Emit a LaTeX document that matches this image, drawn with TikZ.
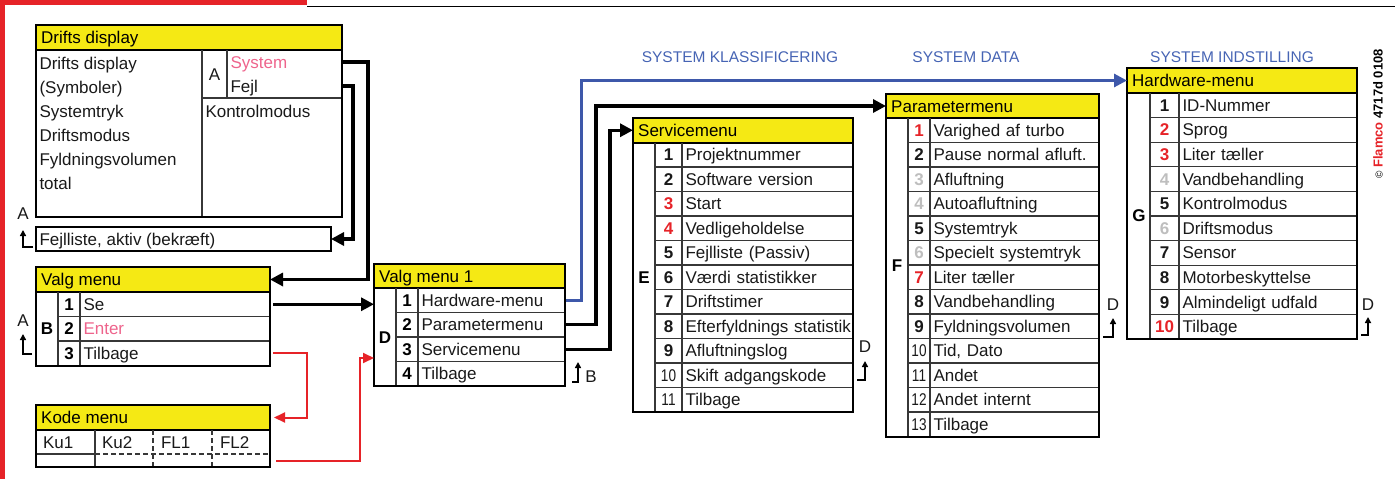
\documentclass[tikz,border=0pt]{standalone}
\usepackage{fontspec}
\setmainfont{Liberation Sans}
\usepackage{graphicx}
\usetikzlibrary{arrows.meta,calc}
\definecolor{hdryellow}{RGB}{245,233,20}
\definecolor{mred}{RGB}{230,35,40}
\definecolor{mpink}{RGB}{238,100,140}
\definecolor{mgray}{RGB}{190,190,190}
\definecolor{mblue}{RGB}{62,88,170}
\definecolor{tblue}{RGB}{70,100,180}
\definecolor{ink}{RGB}{25,25,25}
\definecolor{gridc}{RGB}{55,55,55}
\newcommand\mybody{\fontsize{17}{20}\selectfont}
\newcommand\numbold[1]{{\bfseries #1}}
\newcommand\numthin[1]{\scalebox{0.8}[1]{#1}}
\tikzset{
  hdr/.style={draw=black, fill=hdryellow, line width=2pt, anchor=north west, inner sep=0pt, outer sep=0pt},
  menuframe/.style={draw=black, line width=2pt, anchor=north west, inner sep=0pt, outer sep=0pt},
  gridline/.style={draw=gridc, line width=1.1pt},
  hdrtxt/.style={anchor=west, inner sep=0pt, font=\mybody, text=black, text height=12pt, text depth=0pt},
  rowtxt/.style={anchor=west, inner xsep=3.5pt, inner ysep=0pt, outer sep=0pt, font=\mybody, text=ink, align=left, text height=12pt, text depth=0pt},
  numtxt/.style={inner sep=0pt, font=\mybody, text height=12pt, text depth=0pt},
  sideletter/.style={inner sep=0pt, font=\mybody\bfseries, text height=12pt, text depth=0pt},
  conn/.style={draw=black, line width=3.2pt, -{Triangle[length=13pt,width=13pt]}},
  redconn/.style={draw=mred, line width=2pt, -{Triangle[length=11pt,width=10pt]}},
  blueconn/.style={draw=mblue, line width=3pt, -{Triangle[length=13pt,width=13pt]}},
  backarr/.style={draw=black, line width=1.8pt, -{Triangle[length=6pt,width=6pt]}},
  backlbl/.style={inner sep=0pt, font=\mybody, text=ink},
  sectitle/.style={inner sep=0pt, font=\fontsize{15.5}{18}\selectfont, text=tblue}
}
\begin{document}
\begin{tikzpicture}[x=1pt,y=-1pt]
\useasboundingbox (0,0) rectangle (1395,479);
% page decoration
\fill[mred] (0,0) rectangle (307,5.3);
\draw[line width=1.8pt] (307,6.5) -- (1395,6.5);
\fill[mred] (0,0) rectangle (5.3,479);

% section titles
\node[sectitle] (tk) at (740,57) {SYSTEM KLASSIFICERING};
\node[sectitle] (td) at (966,57) {SYSTEM DATA};
\node[sectitle] (ti) at (1232,57) {SYSTEM INDSTILLING};
\node[rotate=90, inner sep=0pt, font=\fontsize{13}{15}\selectfont\bfseries] (copy) at (1378,114)
  {{\mdseries\fontsize{10}{12}\selectfont\textcopyright}\ \textcolor{mred}{Flamco} 4717d 0108};

% ---------- Drifts display ----------
\node[hdr, minimum width=306pt, minimum height=25pt] (ddh) at (36,25) {};
\node[hdrtxt] (ddt) at ([xshift=5pt]ddh.west) {Drifts display};
\draw[gridline] (202,50) -- (202,217);
\draw[gridline] (227,50) -- (227,98);
\draw[gridline] (202,98) -- (342,98);
\foreach \i/\t in {1/Drifts display,2/(Symboler),3/Systemtryk,4/Driftsmodus,5/Fyldningsvolumen,6/total}{
  \pgfmathsetmacro\yc{63+(\i-1)*24.1}
  \node[rowtxt] (dl\i) at (36,\yc) {\t};
}
\node[backlbl] (dA) at (214.5,75) {A};
\node[rowtxt, text width=108pt, text=mpink] (dsys) at (227,62) {System};
\node[rowtxt, text width=108pt] (dfejl) at (227,86) {Fejl};
\node[rowtxt] (dkon) at (202,111) {Kontrolmodus};
\node[menuframe, minimum width=306pt, minimum height=192pt] (ddb) at (36,25) {};

% Fejlliste
\node[menuframe, minimum width=295pt, minimum height=24pt] (fl) at (36,227) {};
\node[rowtxt] (flt) at (fl.west) {Fejlliste, aktiv (bekræft)};
\node[backlbl] (flA) at (23,214) {A};
\coordinate (flb) at (33,247);
\draw[backarr] (flb) -| (23,230);

% ---------- Valg menu ----------
\node[hdr, minimum width=234pt, minimum height=25pt] (vmh) at (36,267) {};
\node[hdrtxt] (vmt) at ([xshift=5pt]vmh.west) {Valg menu};
\draw[gridline] (58,292) -- (58,365.5) (80,292) -- (80,365.5);
\foreach \i/\c/\t in {1/ink/Se,2/mpink/Enter,3/ink/Tilbage}{
  \pgfmathsetmacro\yt{292+(\i-1)*24.5}
  \pgfmathsetmacro\yc{\yt+12.25}
  \ifnum\i>1 \draw[gridline] (58,\yt) -- (270,\yt); \fi
  \node[numtxt] (vn\i) at (69,\yc) {\numbold{\i}};
  \node[rowtxt, text width=183pt, text=\c] (vr\i) at (80,\yc) {\mbox{\t}};
}
\node[sideletter] (vB) at (47,328) {B};
\node[menuframe, minimum width=234pt, minimum height=98.5pt] (vmb) at (36,267) {};
\node[backlbl] (vA) at (23,321) {A};
\coordinate (vab) at (32,354);
\draw[backarr] (vab) -| (23,334);

% ---------- Kode menu ----------
\node[hdr, minimum width=234pt, minimum height=25pt] (kdh) at (36,405) {};
\node[hdrtxt] (kdt) at ([xshift=5pt]kdh.west) {Kode menu};
\draw[gridline] (36,454) -- (95,454);
\draw[gridline, dash pattern=on 5pt off 3pt] (95,454) -- (270,454);
\draw[gridline] (95,430) -- (95,467);
\draw[gridline, dash pattern=on 5pt off 3pt] (153,430) -- (153,467) (212,430) -- (212,467);
\node[rowtxt, inner xsep=0pt] (k1) at (43,442) {Ku1};
\node[rowtxt, inner xsep=0pt] (k2) at (102,442) {Ku2};
\node[rowtxt, inner xsep=0pt] (k3) at (161,442) {FL1};
\node[rowtxt, inner xsep=0pt] (k4) at (220,442) {FL2};
\node[anchor=north west, inner sep=0pt, outer sep=0pt, minimum width=234pt, minimum height=13pt] (kr2) at (36,454) {};
\node[menuframe, minimum width=234pt, minimum height=62pt] (kdb) at (36,405) {};

% ---------- Valg menu 1 ----------
\node[hdr, minimum width=191pt, minimum height=24pt] (v1h) at (374,264) {};
\node[hdrtxt] (v1t) at ([xshift=5pt]v1h.west) {Valg menu 1};
\draw[gridline] (396,288) -- (396,386) (418,288) -- (418,386);
\foreach \i/\t in {1/Hardware-menu,2/Parametermenu,3/Servicemenu,4/Tilbage}{
  \pgfmathsetmacro\yt{288+(\i-1)*24.5}
  \pgfmathsetmacro\yc{\yt+12.25}
  \ifnum\i>1 \draw[gridline] (396,\yt) -- (565,\yt); \fi
  \node[numtxt] (v1n\i) at (407,\yc) {\numbold{\i}};
  \node[rowtxt, text width=140pt] (v1r\i) at (418,\yc) {\mbox{\t}};
}
\node[sideletter] (v1D) at (385,337) {D};
\node[menuframe, minimum width=191pt, minimum height=122pt] (vmo) at (374,264) {};
\node[backlbl] (v1B) at (591,377) {B};
\coordinate (v1bb) at (572,382);
\draw[backarr] (v1bb) -| (578,362);

% ---------- Servicemenu ----------
\node[hdr, minimum width=220pt, minimum height=24.5pt] (smh) at (633,118) {};
\node[hdrtxt] (smt) at ([xshift=5pt]smh.west) {Servicemenu};
\draw[gridline] (655,142.5) -- (655,412) (682,142.5) -- (682,412);
\foreach \i/\c/\f/\t in {1/ink/\numbold/Projektnummer,2/ink/\numbold/Software version,3/mred/\numbold/Start,4/mred/\numbold/Vedligeholdelse,5/ink/\numbold/Fejlliste (Passiv),6/ink/\numbold/Værdi statistikker,7/ink/\numbold/Driftstimer,8/ink/\numbold/Efterfyldnings statistik,9/ink/\numbold/Afluftningslog,10/ink/\numthin/Skift adgangskode,11/ink/\numthin/Tilbage}{
  \pgfmathsetmacro\yt{142.5+(\i-1)*24.5}
  \pgfmathsetmacro\yc{\yt+12.25}
  \ifnum\i>1 \draw[gridline] (655,\yt) -- (853,\yt); \fi
  \node[numtxt, text=\c] (smn\i) at (668.5,\yc) {\f{\i}};
  \node[rowtxt, text width=164pt] (sm\i) at (682,\yc) {\mbox{\t}};
}
\node[sideletter] (smE) at (644,277) {E};
\node[menuframe, minimum width=220pt, minimum height=294pt] (smb) at (633,118) {};
\node[backlbl] (smD) at (865,347) {D};
\coordinate (smbb) at (857,380);
\draw[backarr] (smbb) -| (865,361);

% ---------- Parametermenu ----------
\node[hdr, minimum width=213pt, minimum height=24pt] (pmh) at (886,94) {};
\node[hdrtxt] (pmt) at ([xshift=5pt]pmh.west) {Parametermenu};
\draw[gridline] (908,118) -- (908,436.5) (930,118) -- (930,436.5);
\foreach \i/\c/\f/\t in {1/mred/\numbold/Varighed af turbo,2/ink/\numbold/Pause normal afluft.,3/mgray/\numbold/Afluftning,4/mgray/\numbold/Autoafluftning,5/ink/\numbold/Systemtryk,6/mgray/\numbold/Specielt systemtryk,7/mred/\numbold/Liter tæller,8/ink/\numbold/Vandbehandling,9/ink/\numbold/Fyldningsvolumen,10/ink/\numthin/{Tid, Dato},11/ink/\numthin/Andet,12/ink/\numthin/Andet internt,13/ink/\numthin/Tilbage}{
  \pgfmathsetmacro\yt{118+(\i-1)*24.5}
  \pgfmathsetmacro\yc{\yt+12.25}
  \ifnum\i>1 \draw[gridline] (908,\yt) -- (1099,\yt); \fi
  \node[numtxt, text=\c] (pmn\i) at (919,\yc) {\f{\i}};
  \node[rowtxt, text width=162pt] (pm\i) at (930,\yc) {\mbox{\t}};
}
\node[sideletter] (pmF) at (897,265) {F};
\node[menuframe, minimum width=213pt, minimum height=342.5pt] (pmb) at (886,94) {};
\node[backlbl] (pmD) at (1113,305) {D};
\coordinate (pmbb) at (1103,337);
\draw[backarr] (pmbb) -| (1113,318);

% ---------- Hardware-menu ----------
\node[hdr, minimum width=230pt, minimum height=25pt] (hwh) at (1127,68) {};
\node[hdrtxt] (hwt) at ([xshift=5pt]hwh.west) {Hardware-menu};
\draw[gridline] (1150,93) -- (1150,339) (1179,93) -- (1179,339);
\foreach \i/\c/\t in {1/ink/ID-Nummer,2/mred/Sprog,3/mred/Liter tæller,4/mgray/Vandbehandling,5/ink/Kontrolmodus,6/mgray/Driftsmodus,7/ink/Sensor,8/ink/Motorbeskyttelse,9/ink/Almindeligt udfald,10/mred/Tilbage}{
  \pgfmathsetmacro\yt{93+(\i-1)*24.6}
  \pgfmathsetmacro\yc{\yt+12.3}
  \ifnum\i>1 \draw[gridline] (1150,\yt) -- (1357,\yt); \fi
  \node[numtxt, text=\c] (hwn\i) at (1164.5,\yc) {\numbold{\i}};
  \node[rowtxt, text width=171pt] (hw\i) at (1179,\yc) {\mbox{\t}};
}
\node[sideletter] (hwG) at (1139,215) {G};
\node[menuframe, minimum width=230pt, minimum height=271pt] (hwb) at (1127,68) {};
\node[backlbl] (hwD) at (1368,305) {D};
\coordinate (hwbb) at (1361,335);
\draw[backarr] (hwbb) -| (1368,317);

% ---------- connectors ----------
\coordinate (c1x) at (368,0);
\coordinate (c2x) at (353,0);
\coordinate (c3x) at (307,0);
\coordinate (c4x) at (360,0);
\coordinate (c5x) at (581,0);
\coordinate (c6x) at (596,0);
\coordinate (c7x) at (610,0);
\coordinate (redin) at (374,358);

\draw[conn] (dsys.east) -- (dsys.east -| c1x) |- (vmh.east);
\draw[conn] (dfejl.east) -- (dfejl.east -| c2x) |- (fl.east);
\draw[conn] ([xshift=3pt]vr1.east) -- (vr1.east -| vmo.west);
\draw[redconn, shorten >=4pt] ([xshift=3pt]vr3.east) -- (vr3.east -| c3x) |- (kdh.east);
\draw[redconn] ([xshift=6pt]kr2.east) -- (kr2.east -| c4x) |- (redin);
\draw[blueconn] ([xshift=1pt]v1r1.east) -- (v1r1.east -| c5x) |- (hwh.west);
\draw[conn] ([xshift=1pt]v1r2.east) -- (v1r2.east -| c6x) |- (pmh.west);
\draw[conn] ([xshift=1pt]v1r3.east) -- (v1r3.east -| c7x) |- (smh.west);
\end{tikzpicture}
\end{document}
